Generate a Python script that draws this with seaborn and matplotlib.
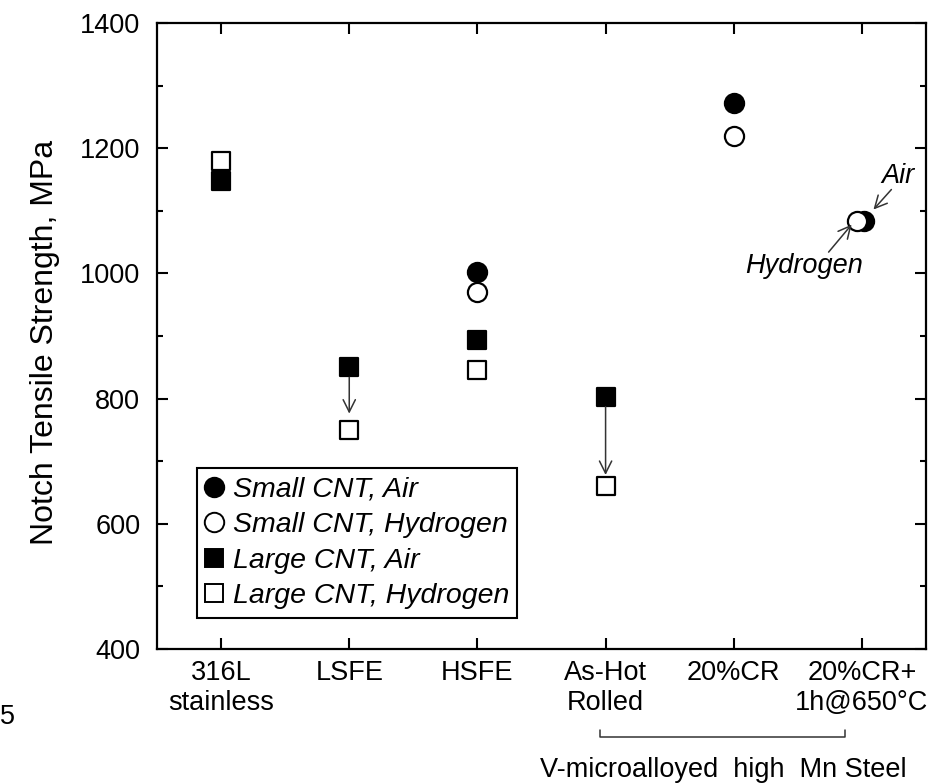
import matplotlib
matplotlib.use("Agg")
import matplotlib.pyplot as plt
import seaborn as sns
import pandas as pd
from matplotlib.lines import Line2D
from matplotlib.ticker import MultipleLocator

sns.set_theme(style="ticks")
plt.rcParams["font.family"] = ["Liberation Sans", "DejaVu Sans"]
plt.rcParams["text.color"] = "black"
plt.rcParams["axes.labelcolor"] = "black"
plt.rcParams["xtick.color"] = "black"
plt.rcParams["ytick.color"] = "black"

FS = 19.5

# Steel conditions along the x axis
categories = ["316L\nstainless", "LSFE", "HSFE", "As-Hot\nRolled", "20%CR", "20%CR+\n1h@650°C"]

# Notch tensile strength (MPa) per series; positions are category indices
small_air_pos = [2, 4, 5.015]
small_air_val = [1003, 1272, 1084]
small_h2_pos = [2, 4, 4.96]
small_h2_val = [971, 1219, 1084]
large_air_pos = [0, 1, 2, 3]
large_air_val = [1147, 850, 893, 803]
large_h2_pos = [0, 1, 2, 3]
large_h2_val = [1180, 750, 846, 661]

series = [
    ("Small CNT, Air", small_air_pos, small_air_val, "o", "black"),
    ("Small CNT, Hydrogen", small_h2_pos, small_h2_val, "o", "white"),
    ("Large CNT, Air", large_air_pos, large_air_val, "s", "black"),
    ("Large CNT, Hydrogen", large_h2_pos, large_h2_val, "s", "white"),
]

fig = plt.figure(figsize=(9.35, 7.84), dpi=100)
ax = fig.add_axes([157 / 935, 1 - 649 / 784, (926 - 157) / 935, (649 - 23) / 784])

handles = []
for name, pos, val, marker, face in series:
    df = pd.DataFrame({"pos": pos, "strength": val})
    size = 190 if marker == "o" else 160
    sns.scatterplot(data=df, x="pos", y="strength", marker=marker, s=size,
                    color=face, edgecolor="black", linewidth=1.6, ax=ax,
                    zorder=3, legend=False)
    handles.append(Line2D([], [], linestyle="none", marker=marker,
                          markersize=14 if marker == "o" else 13,
                          markerfacecolor=face, markeredgecolor="black",
                          markeredgewidth=1.4, label=name))

ax.set_xlim(-0.5, 5.5)
ax.set_ylim(400, 1400)
ax.set_xticks(range(len(categories)))
ax.set_xticklabels(categories, fontsize=FS, linespacing=1.2)
ax.yaxis.set_major_locator(MultipleLocator(200))
ax.yaxis.set_minor_locator(MultipleLocator(100))
ax.tick_params(axis="y", which="major", direction="in", length=8, width=1.5,
               labelsize=FS, pad=12, left=True, right=True)
ax.tick_params(axis="y", which="minor", direction="in", length=4, width=1.5,
               left=True, right=True)
ax.tick_params(axis="x", which="major", direction="in", length=8, width=1.5,
               labelsize=FS, pad=8, top=True, bottom=True)
ax.set_xlabel("")
ax.set_ylabel("Notch Tensile Strength, MPa", fontsize=23, labelpad=10)
ax.yaxis.set_label_coords(-0.126, 0.49)
for sp in ax.spines.values():
    sp.set_linewidth(1.6)
    sp.set_color("black")
    sp.set_visible(True)

# Hydrogen drop arrows
arrow = dict(arrowstyle="->", color="#333333", lw=1.1, mutation_scale=22,
             shrinkA=0, shrinkB=0)
ax.annotate("", xy=(1, 776), xytext=(1, 834), arrowprops=arrow)
ax.annotate("", xy=(3, 678), xytext=(3, 787), arrowprops=arrow)

# Labels for the overlapping points at 20%CR+
ax.text(5.28, 1155, "Air", fontsize=FS, style="italic", ha="center", va="center")
ax.annotate("", xy=(5.09, 1102), xytext=(5.23, 1134), arrowprops=arrow)
ax.text(4.55, 1012, "Hydrogen", fontsize=FS, style="italic", ha="center", va="center")
ax.annotate("", xy=(4.92, 1078), xytext=(4.74, 1034), arrowprops=arrow)

# Group bracket beneath the V-microalloyed steels
trans = ax.get_xaxis_transform()
ax.plot([2.96, 2.96, 4.87, 4.87], [-0.130, -0.141, -0.141, -0.130],
        transform=trans, color="#333333", lw=1.1, clip_on=False)
ax.text(3.92, -0.194, "V-microalloyed  high  Mn Steel", transform=trans,
        fontsize=FS, ha="center", va="center")

leg = ax.legend(handles=handles, loc="lower left", bbox_to_anchor=(0.052, 0.05),
                borderaxespad=0, frameon=True, fancybox=False,
                prop={"style": "italic", "size": 20.5}, handlelength=0.6,
                handletextpad=0.35, labelspacing=0.33, borderpad=0.3)
leg.get_frame().set_edgecolor("black")
leg.get_frame().set_linewidth(1.5)
leg.get_frame().set_alpha(1)

fig.text(0.0, 1 - 717 / 784, "5", fontsize=FS, ha="left", va="center")

fig.savefig("out.png", dpi=100)
